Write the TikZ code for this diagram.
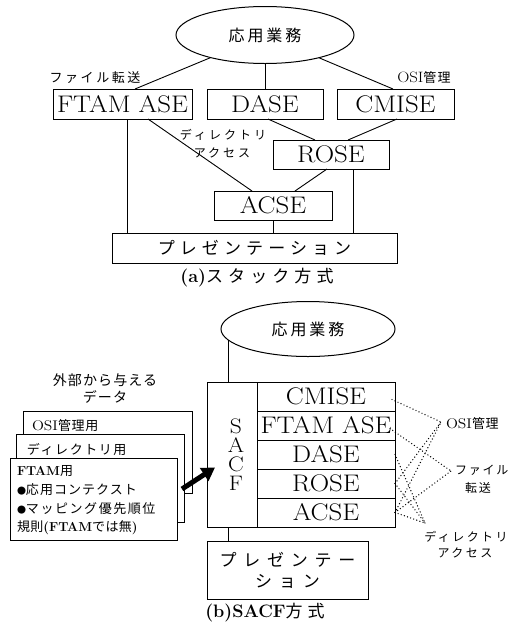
\documentclass[tikz,border=0pt]{standalone}
\usepackage{fontspec}
\newfontfamily\jp{Noto Sans CJK JP}
\newfontfamily\lmr[FakeStretch=1.12]{Latin Modern Roman}
\usetikzlibrary{shapes.geometric,arrows.meta}
\newcommand\setfs[1]{\fontsize{#1}{#1}\selectfont}
\newcommand\jt[3]{{\fontsize{#1}{#1}\selectfont\mdseries\jp\addfontfeature{LetterSpace=#2}#3}}
\newcommand\bul{{\fontsize{9}{9}\selectfont\jp ●}}
\begin{document}
\begin{tikzpicture}[x=1pt,y=-1pt,
  every node/.style={inner sep=0pt, outer sep=0pt},
  box/.style={draw, line width=1pt, rectangle, font=\fontsize{24}{24}\selectfont\lmr},
  oval/.style={draw, line width=1pt, ellipse},
  card/.style={draw, fill=white, line width=1pt, rectangle},
  conn/.style={line width=0.9pt},
  dots/.style={line width=1.4pt, line cap=round, dash pattern=on 0pt off 3.3pt},
  bigarrow/.style={line width=5pt, -{Triangle[width=15pt,length=13pt]}}
]
\useasboundingbox (0,0) rectangle (513,630);

% ---------- (a) ----------
\node[oval, minimum width=178pt, minimum height=57pt] (app1) at (265,35) {\jt{16}{18}{応用業務}};
\node[box, minimum width=139pt, minimum height=30pt] (ftam) at (122.5,104) {FTAM ASE};
\node[box, minimum width=116pt, minimum height=30pt] (dase) at (265,104) {DASE};
\node[box, minimum width=117pt, minimum height=30pt] (cmise) at (395.5,104) {CMISE};
\node[box, minimum width=116pt, minimum height=29pt] (rose) at (331,154.5) {ROSE};
\node[box, minimum width=118pt, minimum height=29pt] (acse) at (273,205.5) {ACSE};
\node[box, minimum width=285pt, minimum height=30pt] (pres1) at (254.5,248) {\jt{17}{30}{プレゼンテーション}};

\node (lftp) at (95,78) {\jt{13}{20}{ファイル転送}};
\node (losi1) at (424,78) {\setfs{15}\lmr OSI\jt{13}{10}{管理}};
\node (ldir1a) at (223,135) {\jt{12}{25}{ディレクトリ}};
\node (ldir1b) at (222,153) {\jt{12}{25}{アクセス}};
\node (capa) at (257,278) {\setfs{18}\bfseries (a)\jt{17}{30}{スタック方式}};

\draw[conn] (app1) -- ([xshift=12.5pt]ftam.north);
\draw[conn] (app1) -- (dase);
\draw[conn] (app1) -- ([xshift=-2.5pt]cmise.north);
\draw[conn] ([xshift=4.5pt]ftam.south) -- ([xshift=4.5pt]ftam.south |- pres1.north);
\draw[conn] ([xshift=25.5pt]ftam.south) -- ([xshift=-21pt]acse.north);
\draw[conn] ([xshift=3pt]dase.south) -- ([xshift=-16pt]rose.north);
\draw[conn] ([xshift=1.5pt]cmise.south) -- ([xshift=17pt]rose.north);
\draw[conn] ([xshift=-4pt]rose.south) -- ([xshift=22pt]acse.north);
\draw[conn] ([xshift=22pt]rose.south) -- ([xshift=22pt]rose.south |- pres1.north);
\draw[conn] (acse.south) -- (acse.south |- pres1.north);

% ---------- (b) ----------
\node[oval, minimum width=174pt, minimum height=55pt] (app2) at (308,329) {\jt{16}{18}{応用業務}};
\node[box, minimum width=50pt, minimum height=145pt, align=center, font=\fontsize{21}{19}\selectfont\lmr] (sacf) at (232,454.5) {\hspace*{8pt}S\\\hspace*{8pt}A\\\hspace*{8pt}C\\\hspace*{8pt}F};
\node[box, minimum width=138pt, minimum height=29pt] (r1) at (326,396.5) {CMISE};
\node[box, minimum width=138pt, minimum height=29pt] (r2) at (326,425.5) {FTAM ASE};
\node[box, minimum width=138pt, minimum height=29pt] (r3) at (326,454.5) {DASE};
\node[box, minimum width=138pt, minimum height=29pt] (r4) at (326,483.5) {ROSE};
\node[box, minimum width=138pt, minimum height=29pt] (r5) at (326,512.5) {ACSE};
\node[box, minimum width=161pt, minimum height=58pt, align=center, font=\fontsize{17}{21}\selectfont] (pres2) at (287.5,570) {\jt{17}{40}{プレゼンテー}\\\jt{17}{40}{ション}};
\node (capb) at (265,613) {\setfs{18}\bfseries (b)SACF\jt{17}{30}{方式}};

\draw[conn] (app2.188) -- (app2.188 |- sacf.north);
\draw[conn] ([xshift=-4pt]sacf.south) -- ([xshift=-4pt]sacf.south |- pres2.north);

\node (ext1) at (105,380) {\jt{14}{8}{外部から与える}};
\node (ext2) at (105,397) {\jt{14}{8}{データ}};

\node[card, minimum width=169pt, minimum height=82pt] (card1) at (107.5,452) {};
\node[anchor=west] (t1) at (32,426) {\setfs{14}\lmr OSI\jt{13}{5}{管理用}};
\node[card, minimum width=168pt, minimum height=88pt] (card2) at (100,478) {};
\node[anchor=west] (t2) at (27,450) {\jt{13}{12}{ディレクトリ用}};
\node[card, minimum width=167pt, minimum height=82pt] (card3) at (93.5,499) {};
\node[anchor=west] (t3) at (17,471) {\setfs{13}\bfseries FTAM\jt{13}{0}{用}};
\node[anchor=west] (t4) at (17,490) {\bul\jt{13}{8}{応用コンテクスト}};
\node[anchor=west] (t5) at (17,509) {\bul\jt{13}{12}{マッピング優先順位}};
\node[anchor=west] (t6) at (17,528) {\jt{13}{3}{規則}\setfs{13}\bfseries(FTAM\jt{13}{3}{では無})};

\draw[bigarrow] ([xshift=5pt,yshift=10pt]card3.east) -- ([xshift=8pt,yshift=-13pt]sacf.west);

\coordinate (apO) at (441,422);
\coordinate (apF) at (451,471);
\coordinate (apD) at (425,523);
\draw[dots] ([xshift=-3pt,yshift=-3pt]r1.east) -- (apO);
\draw[dots] ([xshift=-5pt,yshift=-3pt]r2.east) -- (apF);
\draw[dots] (r3.east) -- (apD);
\draw[dots] (r4.east) -- (apO);
\draw[dots] (r4.east) -- (apD);
\draw[dots] (r5.east) -- (apO);
\draw[dots] (r5.east) -- (apF);
\draw[dots] (r5.east) -- (apD);

\node[anchor=west] (losi2) at (446,424) {\setfs{14}\lmr OSI\jt{13}{5}{管理}};
\node[anchor=west] (lf2a) at (455,470) {\jt{12}{15}{ファイル}};
\node (lf2b) at (478,488) {\jt{12}{15}{転送}};
\node (ld2a) at (466,537) {\jt{12}{20}{ディレクトリ}};
\node (ld2b) at (465,553) {\jt{12}{20}{アクセス}};
\end{tikzpicture}
\end{document}
